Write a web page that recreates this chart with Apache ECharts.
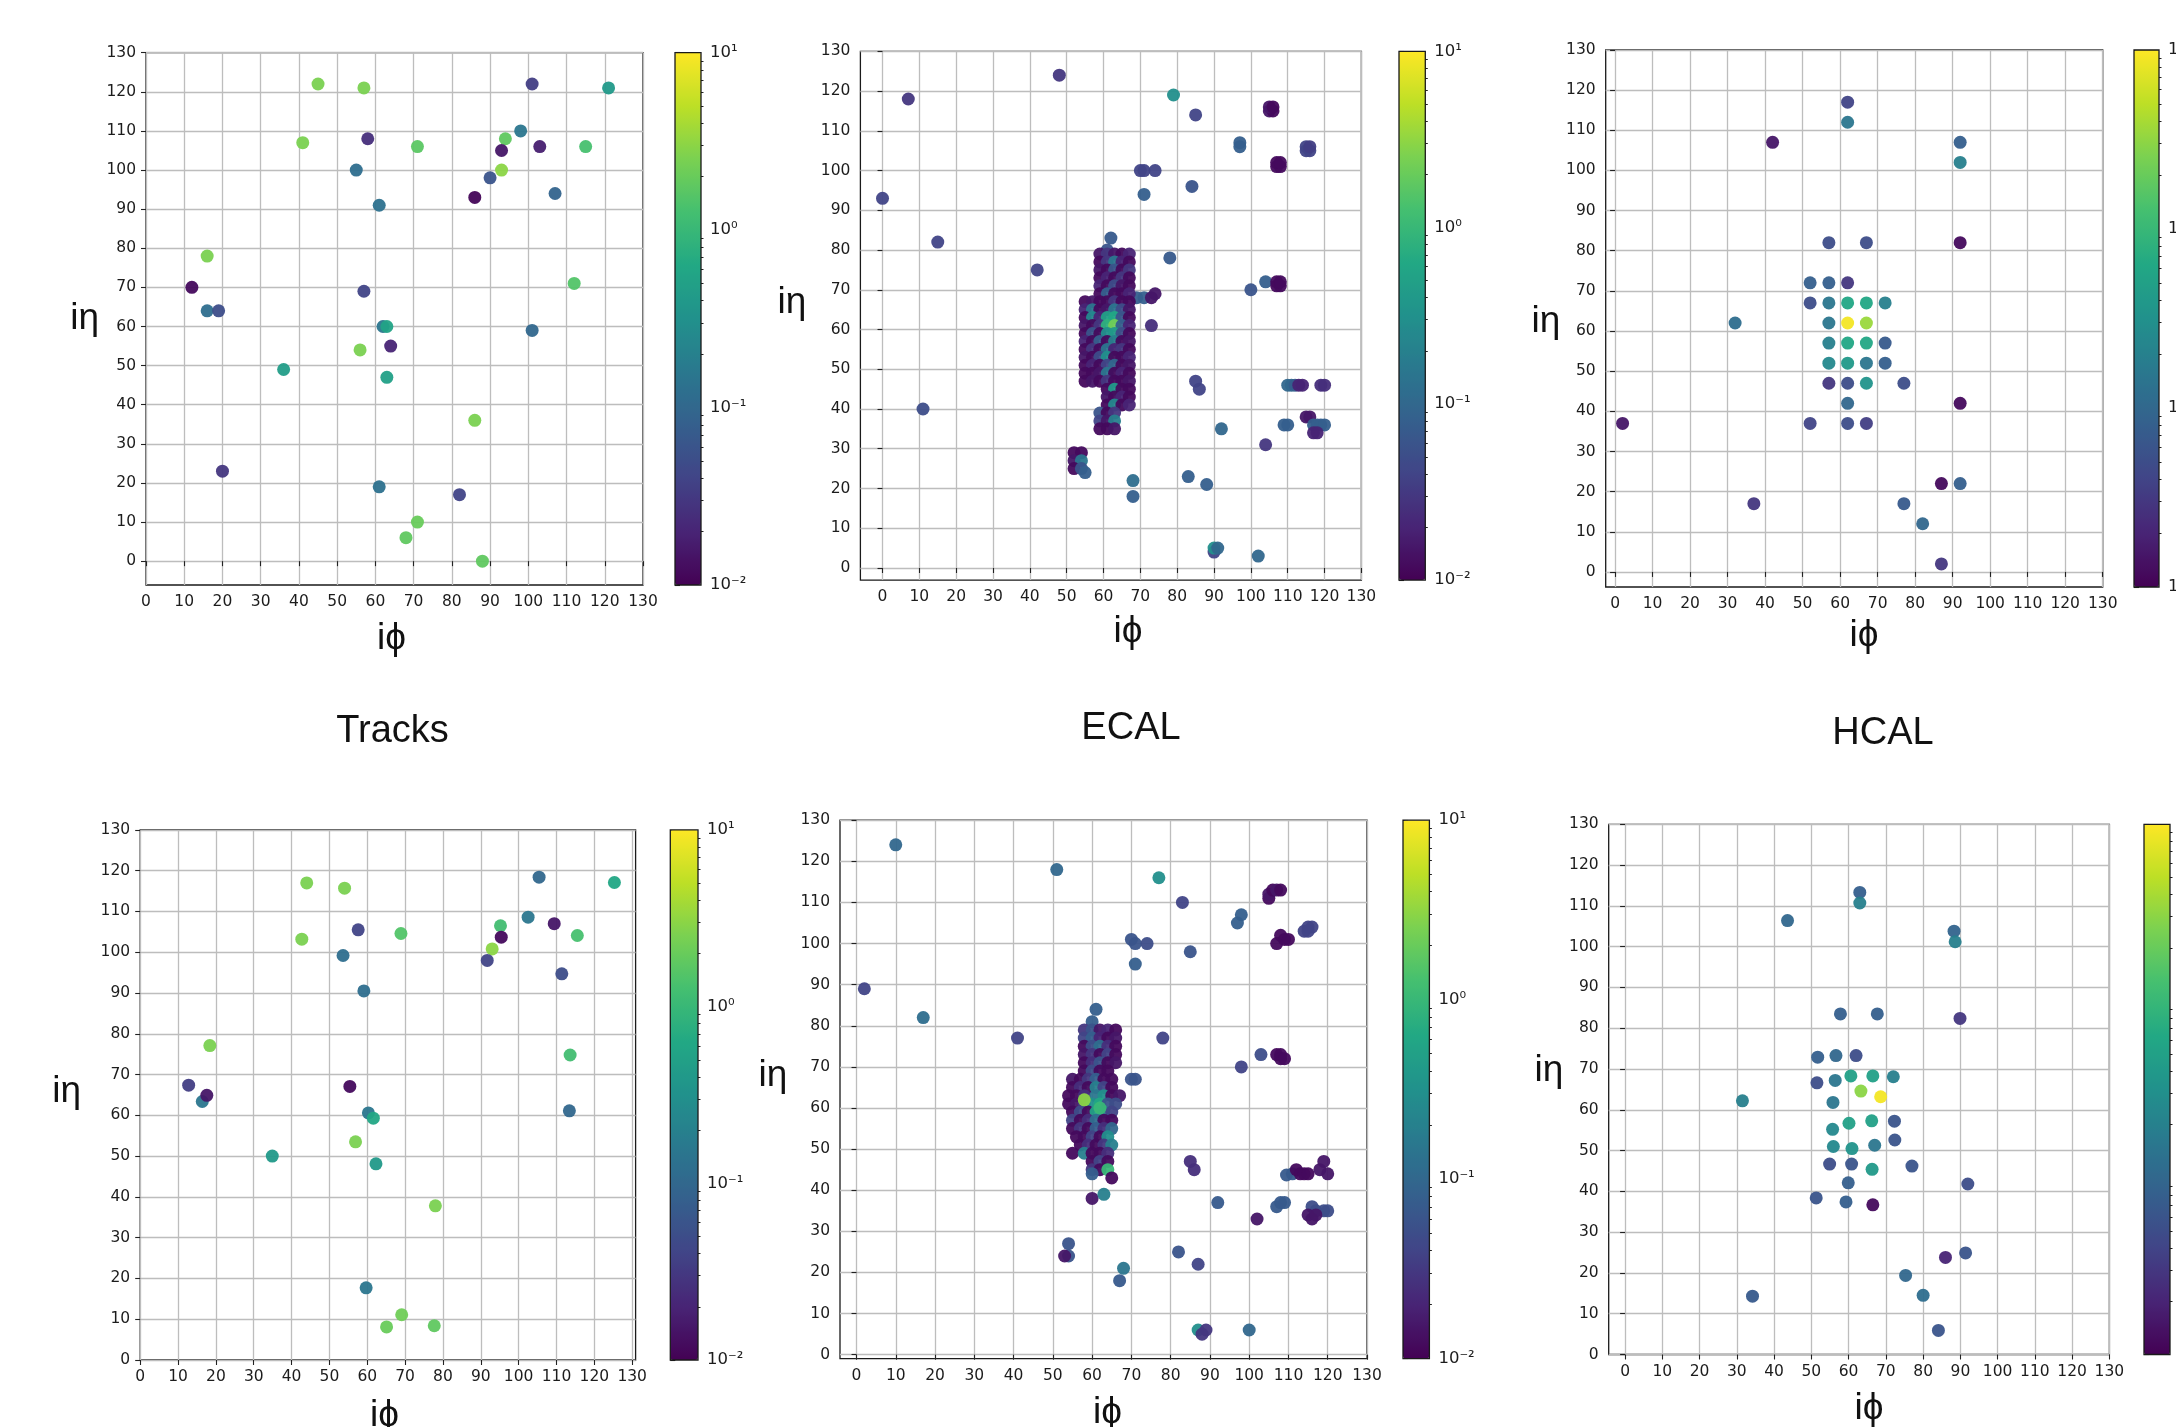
<!DOCTYPE html>
<html>
<head>
<meta charset="utf-8">
<title>Tracks / ECAL / HCAL</title>
<script src="https://cdn.jsdelivr.net/npm/echarts@6/dist/echarts.min.js"></script>
<style>
  html, body { margin: 0; padding: 0; background: #fff; }
  #chart { width: 2176px; height: 1427px; }
</style>
</head>
<body>
<div id="chart"></div>
<script>
// Ticks
const phiTicks = [0, 10, 20, 30, 40, 50, 60, 70, 80, 90, 100, 110, 120, 130];
const etaTicks = [0, 10, 20, 30, 40, 50, 60, 70, 80, 90, 100, 110, 120, 130];
const energyTicks = [-2, -1, 0, 1]; // log10 of the deposit
const energyTickLabels = ['10⁻²', '10⁻¹', '10⁰', '10¹'];
const panelTitles = ['Tracks', 'ECAL', 'HCAL'];

// Hits: [iphi, ieta, energy]
const tracksTopHits = [
  [45,122,2.5],[57,121,2.5],[101,122,0.035],[121,121,0.4],[98,110,0.15],[41,107,2.5],
  [58,108,0.025],[71,106,1.7],[94,108,1.8],[93,105,0.015],[103,106,0.018],[115,106,1.3],
  [55,100,0.12],[93,100,3],[90,98,0.06],[86,93,0.011],[107,94,0.09],[61,91,0.13],
  [16,78,2.5],[12,70,0.012],[112,71,1.5],[57,69,0.04],[16,64,0.12],[19,64,0.05],
  [62,60,0.15],[63,60,0.55],[101,59,0.1],[64,55,0.02],[56,54,2.5],[36,49,0.45],
  [63,47,0.5],[86,36,2.5],[20,23,0.03],[61,19,0.13],[82,17,0.04],[71,10,2],[68,6,1.8],[88,0,1.8]
];

const ecalTopHits = [
  [48,124,0.03],[7,118,0.03],[79,119,0.3],[85,114,0.04],
  [105,115,0.015],[106,115,0.012],[105,116,0.015],[106,116,0.012],
  [97,107,0.08],[97,106,0.08],
  [115,105,0.04],[116,105,0.04],[115,106,0.04],[116,106,0.035],
  [107,101,0.012],[108,101,0.012],[107,102,0.012],[108,102,0.012],
  [70,100,0.04],[71,100,0.04],[74,100,0.04],
  [0,93,0.04],[71,94,0.08],[84,96,0.06],[15,82,0.04],[42,75,0.04],[78,78,0.07],[62,83,0.07],[61,80,0.06],
  [100,70,0.06],[104,72,0.08],
  [107,71,0.012],[108,71,0.012],[107,72,0.012],[108,72,0.012],
  [69,68,0.08],[71,68,0.08],[73,68,0.015],[74,69,0.015],[73,61,0.025],
  [85,47,0.04],[86,45,0.04],[92,35,0.1],[104,31,0.03],
  [110,46,0.1],[111,46,0.1],[112,46,0.08],[113,46,0.02],[114,46,0.02],[119,46,0.025],[120,46,0.025],
  [115,38,0.015],[116,38,0.015],
  [109,36,0.08],[110,36,0.08],[117,36,0.08],[118,36,0.08],[119,36,0.08],[120,36,0.08],[117,34,0.02],[118,34,0.02],
  [11,40,0.05],[83,23,0.08],[88,21,0.08],[68,22,0.12],[68,18,0.08],
  [90,4,0.04],[90,5,0.3],[91,5,0.1],[102,3,0.1]
];

// dense shower core of the top ECAL image
const ecalTopCore = [
  [59,79,0.015],[61,79,0.03],[63,79,0.015],[65,79,0.012],[67,79,0.02],
  [59,77,0.012],[61,77,0.03],[63,77,0.15],[65,77,0.02],[67,77,0.012],
  [59,75,0.015],[61,75,0.012],[63,75,0.06],[65,75,0.012],[67,75,0.03],
  [59,73,0.012],[61,73,0.02],[63,73,0.012],[65,73,0.03],[67,73,0.012],
  [59,71,0.02],[61,71,0.012],[63,71,0.05],[65,71,0.015],[67,71,0.012],
  [59,69,0.012],[61,69,0.08],[63,69,0.012],[65,69,0.012],[67,69,0.02],
  [55,67,0.012],[57,67,0.015],[59,67,0.012],[61,67,0.012],[63,67,0.03],[65,67,0.012],[67,67,0.012],
  [55,65,0.02],[57,65,0.15],[59,65,0.012],[61,65,0.015],[63,65,0.15],[65,65,0.05],[67,65,0.015],
  [55,63,0.012],[57,63,0.25],[59,63,0.02],[61,63,0.5],[63,63,0.6],[65,63,0.06],[67,63,0.012],
  [55,61,0.015],[57,61,0.012],[59,61,0.03],[61,61,0.8],[63,61,2.2],[65,61,0.08],[67,61,0.02],
  [55,59,0.012],[57,59,0.06],[59,59,0.012],[61,59,0.3],[63,59,0.4],[65,59,0.05],[67,59,0.012],
  [55,57,0.02],[57,57,0.012],[59,57,0.08],[61,57,0.012],[63,57,0.2],[65,57,0.012],[67,57,0.015],
  [55,55,0.012],[57,55,0.03],[59,55,0.012],[61,55,0.15],[63,55,0.02],[65,55,0.03],[67,55,0.012],
  [55,53,0.015],[57,53,0.012],[59,53,0.05],[61,53,0.3],[63,53,0.012],[65,53,0.012],[67,53,0.02],
  [55,51,0.012],[57,51,0.02],[59,51,0.012],[61,51,0.04],[63,51,0.1],[65,51,0.012],[67,51,0.015],
  [55,49,0.012],[57,49,0.012],[59,49,0.015],[61,49,0.15],[63,49,0.012],[65,49,0.02],[67,49,0.012],
  [55,47,0.012],[57,47,0.015],[59,47,0.012],[61,47,0.03],[63,47,0.012],[65,47,0.012],[67,47,0.015],
  [61,45,0.012],[63,45,0.4],[65,45,0.012],[67,45,0.012],
  [61,43,0.015],[63,43,0.012],[65,43,0.02],[67,43,0.012],
  [61,41,0.012],[63,41,0.25],[65,41,0.012],[67,41,0.02],
  [59,39,0.06],[61,39,0.012],[63,39,0.03],
  [59,37,0.04],[61,37,0.015],[63,37,0.2],
  [59,35,0.012],[61,35,0.012],[63,35,0.015],
  [52,29,0.012],[54,29,0.012],[52,27,0.015],[54,27,0.15],[52,25,0.012],[54,25,0.06],[55,24,0.08]
];

const hcalTopHits = [
  [62,117,0.04],[62,112,0.15],[42,107,0.015],[92,107,0.08],[92,102,0.2],
  [57,82,0.05],[67,82,0.05],[92,82,0.012],
  [52,72,0.08],[57,72,0.08],[62,72,0.03],
  [52,67,0.05],[57,67,0.15],[62,67,0.6],[67,67,0.6],[72,67,0.2],
  [32,62,0.12],[57,62,0.15],[62,62,9],[67,62,3.5],
  [57,57,0.2],[62,57,0.6],[67,57,0.6],[72,57,0.07],
  [57,52,0.25],[62,52,0.4],[67,52,0.15],[72,52,0.08],
  [57,47,0.03],[62,47,0.05],[67,47,0.35],[77,47,0.05],
  [62,42,0.1],[92,42,0.012],
  [2,37,0.015],[52,37,0.04],[62,37,0.05],[67,37,0.035],
  [87,22,0.012],[92,22,0.08],[37,17,0.03],[77,17,0.07],[82,12,0.1],[87,2,0.03]
];

const tracksBottomHits = [
  [44,117,2.5],[54,115.7,2.5],[105.4,118.4,0.1],[125.3,117.1,0.6],[102.5,108.6,0.15],
  [109.4,107,0.015],[95.2,106.5,1.2],[95.4,103.7,0.012],[115.5,104.1,1.3],[57.6,105.5,0.04],
  [68.9,104.6,1.5],[42.7,103.2,2.5],[93,100.8,3],[91.7,98,0.04],[53.6,99.2,0.12],
  [111.4,94.7,0.05],[59.1,90.5,0.12],[18.4,77.1,2.5],[113.6,74.8,1.2],[12.8,67.4,0.035],
  [55.4,67.1,0.012],[16.4,63.4,0.15],[17.6,64.9,0.015],[113.4,61.1,0.1],[60.3,60.6,0.15],
  [61.6,59.3,0.6],[56.9,53.5,2.5],[34.9,50,0.4],[62.3,48.1,0.4],[78,37.8,2.5],
  [59.7,17.7,0.15],[69.1,11.1,2.2],[65.1,8.1,2],[77.7,8.4,1.8]
];

const ecalBottomHits = [
  [10,124,0.1],[51,118,0.1],[77,116,0.3],[83,110,0.04],
  [105,111,0.012],[105,112,0.015],[106,113,0.012],[107,113,0.015],[108,113,0.012],
  [98,107,0.08],[97,105,0.08],
  [114,103,0.04],[115,104,0.04],[116,104,0.04],[115,103,0.04],
  [108,102,0.012],[107,100,0.012],[109,101,0.012],[110,101,0.012],
  [70,101,0.06],[71,100,0.06],[74,100,0.05],
  [85,98,0.06],[71,95,0.08],[2,89,0.04],[17,82,0.12],[41,77,0.04],[78,77,0.04],[103,73,0.05],[98,70,0.04],
  [107,73,0.012],[108,73,0.012],[108,72,0.012],[109,72,0.012],
  [70,67,0.06],[71,67,0.06],
  [85,47,0.025],[86,45,0.025],[92,37,0.07],[102,33,0.015],
  [109.5,43.7,0.07],[111,44,0.07],[112,45,0.012],[113,44,0.012],[114,44,0.012],[115,44,0.012],
  [118,45,0.015],[119,47,0.015],[120,44,0.015],
  [107,36,0.07],[108,37,0.07],[109,37,0.07],
  [116,36,0.05],[117,35,0.05],[119,35,0.05],[120,35,0.05],
  [115,34,0.015],[116,33,0.015],[117,34,0.015],
  [54,27,0.06],[54,24,0.06],[53,24,0.015],
  [68,21,0.15],[67,18,0.07],[82,25,0.06],[87,22,0.04],
  [87,6,0.3],[89,6,0.03],[88,5,0.03],[100,6,0.1],
  [61,84,0.08],[60,81,0.08]
];

// dense shower core of the bottom ECAL image
const ecalBottomCore = [
  [58,79,0.03],[60,79,0.06],[62,79,0.015],[64,79,0.02],[66,79,0.012],
  [58,77,0.04],[60,77,0.08],[62,77,0.02],[64,77,0.012],[66,77,0.015],
  [58,75,0.012],[60,75,0.05],[62,75,0.12],[64,75,0.025],[66,75,0.012],
  [58,73,0.015],[60,73,0.03],[62,73,0.012],[64,73,0.04],[66,73,0.012],
  [58,71,0.012],[60,71,0.025],[62,71,0.06],[64,71,0.012],[66,71,0.015],
  [58,69,0.012],[60,69,0.05],[62,69,0.012],[64,69,0.012],
  [55,67,0.015],[57,67,0.012],[59,67,0.03],[61,67,0.08],[63,67,0.012],[65,67,0.012],
  [55,65,0.012],[57,65,0.025],[59,65,0.012],[61,65,0.2],[63,65,0.04],[65,65,0.012],
  [54,63,0.012],[56,63,0.012],[58,63,0.025],[61,63,0.15],[63,63,0.3],[65,63,0.012],[67,63,0.015],
  [54,61,0.012],[56,61,0.015],[58,61,0.03],[60,61,0.3],[62,61,0.6],[64,61,0.06],[66,61,0.05],
  [55,59,0.012],[57,59,0.05],[59,59,0.012],[61,59,0.5],[63,59,0.2],[65,59,0.04],
  [55,57,0.04],[57,57,0.012],[59,57,0.025],[61,57,0.12],[63,57,0.012],[65,57,0.012],
  [55,55,0.012],[57,55,0.03],[59,55,0.012],[61,55,0.08],[63,55,0.025],[65,55,0.1],
  [56,53,0.012],[58,53,0.012],[60,53,0.04],[62,53,0.012],[64,53,0.3],
  [57,51,0.012],[59,51,0.025],[61,51,0.012],[63,51,0.03],[65,51,0.2],
  [55,49,0.012],[58,49,0.2],[60,49,0.012],[62,49,0.012],[64,49,0.025],
  [60,47,0.012],[62,47,0.04],[64,47,0.012],
  [60,45,0.03],[62,45,0.012],[64,45,1.0],
  [60,44,0.08],[65,43,0.012],
  [60,38,0.015],[63,39,0.2],
  [62,60,1.0],[58,62,3.0]
];

const hcalBottomHits = [
  [63,113.3,0.08],[63,110.7,0.2],[43.6,106.4,0.1],[88.3,103.8,0.09],[88.6,101.2,0.2],
  [57.8,83.5,0.08],[67.7,83.5,0.08],[89.9,82.4,0.03],
  [51.7,72.9,0.08],[56.6,73.3,0.1],[62,73.3,0.05],
  [51.5,66.6,0.05],[56.4,67.2,0.15],[60.6,68.3,0.5],[66.5,68.3,0.5],[72,68.1,0.2],
  [31.5,62.2,0.2],[63.3,64.6,3],[68.6,63.2,9],[55.8,61.8,0.15],
  [60.1,56.7,0.5],[66.2,57.3,0.5],[72.3,57.2,0.06],[55.7,55.2,0.25],[72.4,52.6,0.06],
  [55.9,51,0.25],[60.9,50.5,0.35],[67,51.3,0.15],
  [54.9,46.7,0.05],[60.8,46.7,0.06],[66.3,45.4,0.4],[77,46.2,0.06],
  [59.9,42.1,0.08],[92,41.8,0.05],[51.3,38.4,0.06],[59.3,37.4,0.08],[66.5,36.7,0.012],
  [91.4,24.9,0.06],[86,23.8,0.02],[75.3,19.4,0.1],[34.2,14.3,0.07],[80,14.5,0.12],[84.1,5.9,0.06]
];

// viridis
const viridis = ['#440154','#482475','#414487','#355f8d','#2a788e','#21918c',
                 '#22a884','#44bf70','#7ad151','#bddf26','#fde725'];

// Layout of the six panels (pixels): plot box, axis ranges, colorbar box, label spots
const panels = [
  { hits: tracksTopHits, box: [146, 52.7, 497, 532.3], xr: [0, 130], yr: [-6.1, 130],
    cb: [675, 52.7, 26, 532.3], eta: [84.7, 319], phi: [391.4, 638.4] },
  { hits: ecalTopHits.concat(ecalTopCore), box: [860.4, 51.3, 501, 528.8], xr: [-6, 130], yr: [-3.05, 130],
    cb: [1399, 51.3, 26.3, 528.8], eta: [792, 302.5], phi: [1128, 631.5] },
  { hits: hcalTopHits, box: [1605.7, 50, 497, 537], xr: [-2.5, 130], yr: [-3.75, 130],
    cb: [2134, 50, 25, 537], eta: [1546, 322], phi: [1864, 635.6] },
  { hits: tracksBottomHits, box: [140.2, 829.9, 495.4, 530.1], xr: [0, 130.9], yr: [0, 130],
    cb: [670.3, 829.9, 27.7, 530.1], eta: [66.6, 1092], phi: [384.4, 1415.6] },
  { hits: ecalBottomHits.concat(ecalBottomCore), box: [840, 820.2, 527, 538.4], xr: [-4.2, 130], yr: [-0.95, 130],
    cb: [1403, 820.2, 26.4, 538.4], eta: [773, 1075.5], phi: [1107.5, 1412.8] },
  { hits: hcalBottomHits, box: [1608.7, 824.3, 500.7, 530.2], xr: [-4.4, 130], yr: [0, 130],
    cb: [2144, 824.3, 26, 530.2], eta: [1549, 1071], phi: [1869, 1408.6] }
];
const titleSpots = [[392.5, 731.5], [1131, 728.6], [1883, 734]];

// minor ticks of the log colorbar (2..9 in each decade)
const minorTicks = [];
[-2, -1, 0].forEach(d => { for (let k = 2; k <= 9; k++) minorTicks.push(d + Math.log10(k)); });

const tickFont = { color: '#1c1c1c', fontSize: 15.5, fontFamily: 'DejaVu Sans' };
const cbarFont = { color: '#1c1c1c', fontSize: 16.5, fontFamily: 'DejaVu Sans' };
const labelFont = '"Liberation Sans", "DejaVu Sans", sans-serif';

const grid = [], xAxis = [], yAxis = [], series = [], visualMap = [], graphic = [];

panels.forEach((p, i) => {
  // plot area
  grid.push({ left: p.box[0], top: p.box[1], width: p.box[2], height: p.box[3],
    show: true, borderColor: '#1a1a1a', borderWidth: 1.3, backgroundColor: 'rgba(0,0,0,0)',
    outerBoundsMode: 'none' });
  const g = grid.length - 1;
  xAxis.push({ type: 'value', gridIndex: g, min: p.xr[0], max: p.xr[1],
    axisLine: { show: false },
    axisTick: { show: true, length: 5, customValues: phiTicks, lineStyle: { color: '#222', width: 1.1 } },
    axisLabel: Object.assign({ customValues: phiTicks, margin: 9 }, tickFont),
    splitLine: { show: true, lineStyle: { color: '#bdbdbd', width: 1.3 } } });
  yAxis.push({ type: 'value', gridIndex: g, min: p.yr[0], max: p.yr[1],
    axisLine: { show: false },
    axisTick: { show: true, length: 5, customValues: etaTicks, lineStyle: { color: '#222', width: 1.1 } },
    axisLabel: Object.assign({ customValues: etaTicks, margin: 10 }, tickFont),
    splitLine: { show: true, lineStyle: { color: '#bdbdbd', width: 1.3 } } });
  series.push({ type: 'scatter', xAxisIndex: xAxis.length - 1, yAxisIndex: yAxis.length - 1,
    symbolSize: 13,
    itemStyle: { opacity: 0.95 },
    data: p.hits.map(h => [h[0], h[1], Math.log10(h[2])]) });

  visualMap.push({ type: 'continuous', seriesIndex: i, dimension: 2, min: -2, max: 1,
    calculable: false, hoverLink: false, orient: 'vertical', padding: 0,
    left: p.cb[0], top: p.cb[1], itemWidth: p.cb[2], itemHeight: p.cb[3],
    inRange: { color: viridis } });

  // colorbar axis
  grid.push({ left: p.cb[0], top: p.cb[1], width: p.cb[2], height: p.cb[3], show: false,
    outerBoundsMode: 'none' });
  const cg = grid.length - 1;
  xAxis.push({ type: 'value', gridIndex: cg, min: 0, max: 1, show: false });
  yAxis.push({ type: 'value', gridIndex: cg, position: 'right', min: -2, max: 1, interval: 1,
    axisLine: { show: false },
    axisTick: { show: true, length: 5, lineStyle: { color: '#222', width: 1.1 } },
    axisLabel: Object.assign({ margin: 9,
      formatter: v => energyTickLabels[energyTicks.indexOf(Math.round(v))] }, cbarFont),
    splitLine: { show: false } });
  yAxis.push({ type: 'value', gridIndex: cg, position: 'right', min: -2, max: 1,
    axisLine: { show: false },
    axisTick: { show: true, length: 2.5, customValues: minorTicks, lineStyle: { color: '#222', width: 1 } },
    axisLabel: { show: false }, splitLine: { show: false } });

  graphic.push({ type: 'rect', z: 100, silent: true,
    shape: { x: p.cb[0], y: p.cb[1], width: p.cb[2], height: p.cb[3] },
    style: { fill: 'rgba(0,0,0,0)', stroke: '#1a1a1a', lineWidth: 1.3 } });

  graphic.push({ type: 'text', x: p.eta[0], y: p.eta[1], z: 100, silent: true,
    style: { text: 'iη', fill: '#111', font: '37px ' + labelFont,
      textAlign: 'center', textVerticalAlign: 'middle', align: 'center', verticalAlign: 'middle' } });
  graphic.push({ type: 'text', x: p.phi[0], y: p.phi[1], z: 100, silent: true,
    style: { text: 'iϕ', fill: '#111', font: '37px ' + labelFont,
      textAlign: 'center', textVerticalAlign: 'middle', align: 'center', verticalAlign: 'middle' } });
});

panelTitles.forEach((t, i) => {
  graphic.push({ type: 'text', x: titleSpots[i][0], y: titleSpots[i][1], z: 100, silent: true,
    style: { text: t, fill: '#111', font: '38px ' + labelFont,
      textAlign: 'center', textVerticalAlign: 'middle', align: 'center', verticalAlign: 'middle' } });
});

const chart = echarts.init(document.getElementById('chart'));
chart.setOption({
  animation: false,
  backgroundColor: '#fff',
  grid: grid,
  xAxis: xAxis,
  yAxis: yAxis,
  visualMap: visualMap,
  series: series,
  graphic: graphic
});
</script>
</body>
</html>
